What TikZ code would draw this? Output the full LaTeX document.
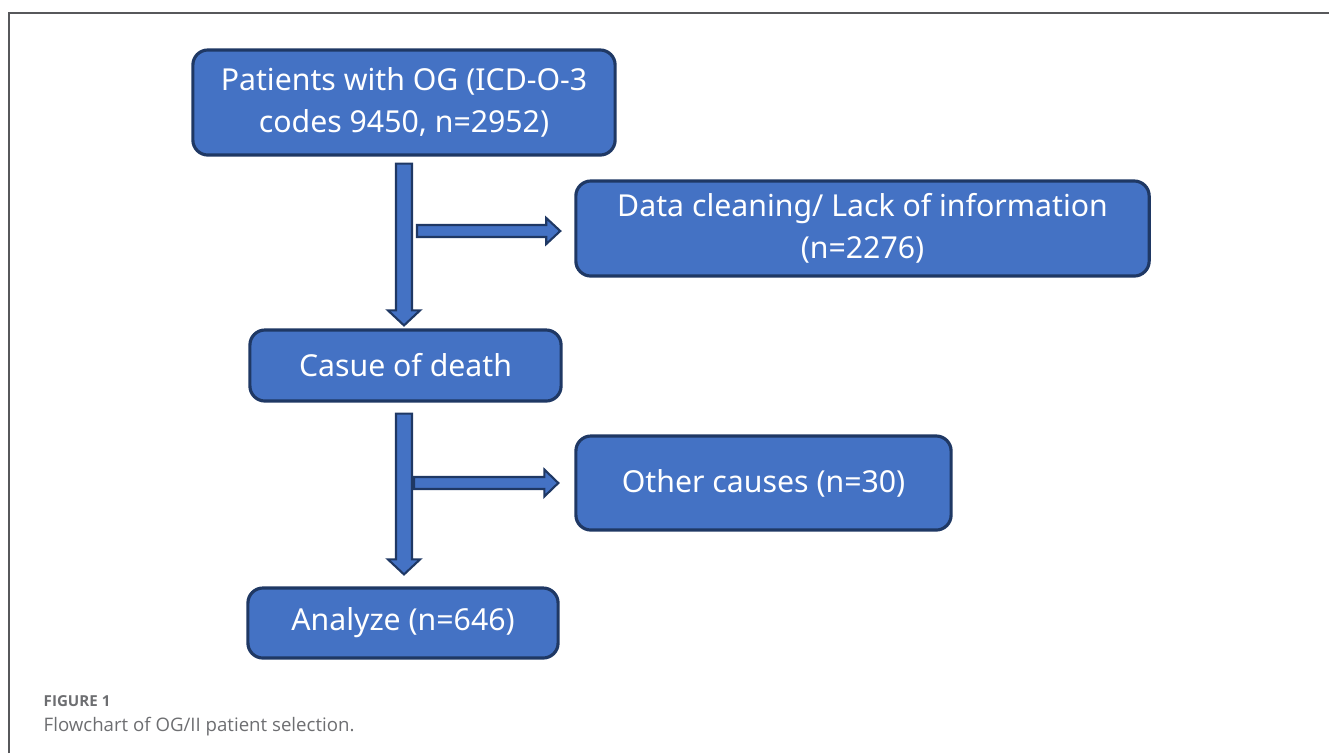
\documentclass[tikz,border=0pt]{standalone}
\usepackage{fontspec}
\setmainfont{Noto Sans}
\newfontfamily\capfont{Open Sans}
\usetikzlibrary{calc}
\definecolor{boxblue}{HTML}{4472C4}
\definecolor{boxline}{HTML}{1F3864}
\definecolor{capgrey}{HTML}{6D6E71}
\tikzset{
  flowbox/.style = {draw = boxline, line width = 0.9pt, fill = boxblue, rounded corners = 0.15cm,
    text = white, align = center, font = \fontsize{8.6}{12}\selectfont, inner sep = 0pt},
  fatarrow/.style = {draw = boxline, line width = 0.6pt, fill = boxblue, line join = miter}
}
% block arrow from #1 to tip #2, half shaft #3, half head #4, head length #5
\newcommand{\fatarrow}[5]{%
  \coordinate (hb) at ($(#2)!#5!(#1)$);
  \draw[fatarrow] ($(#1)!#3!90:(#2)$) -- ($(hb)!#3!-90:(#1)$) -- ($(hb)!#4!-90:(#1)$) -- (#2)
    -- ($(hb)!#4!90:(#1)$) -- ($(hb)!#3!90:(#1)$) -- ($(#1)!#3!-90:(#2)$) -- cycle;
}
\begin{document}
\begin{tikzpicture}[x = 0.01cm, y = -0.01cm]
				\useasboundingbox (0,0) rectangle (1331,753);
				\draw [capgrey!80!black, line width = 0.5pt] (9,753) -- (9,13) -- (1329,13);
				%
				\node [flowbox, minimum width = 4.22cm, minimum height = 1.05cm] (pat) at (404,102.5)
				  {Patients with OG (ICD-O-3\\codes 9450, n=2952)};
				\node [flowbox, minimum width = 5.73cm, minimum height = 0.95cm] (clean) at (862.5,228.5)
				  {Data cleaning/ Lack of information\\(n=2276)};
				\node [flowbox, minimum width = 3.11cm, minimum height = 0.71cm] (cause) at (405.5,365.5)
				  {Casue of death};
				\node [flowbox, minimum width = 3.75cm, minimum height = 0.94cm] (other) at (763.5,483)
				  {Other causes (n=30)};
				\node [flowbox, minimum width = 3.10cm, minimum height = 0.70cm] (analyze) at (403,623)
				  {Analyze (n=646)};
				%
				\coordinate (a1s) at ($(pat.south)+(0,7)$);
				\coordinate (a1e) at (pat.south |- {$(cause.north)+(0,-3)$});
				\fatarrow{a1s}{a1e}{0.08cm}{0.16cm}{0.15cm}
				\coordinate (a2s) at ($(pat.south |- clean.west)+(13,2.5)$);
				\coordinate (a2e) at ($(clean.west)+(-14,2.5)$);
				\fatarrow{a2s}{a2e}{0.06cm}{0.13cm}{0.14cm}
				\coordinate (a3s) at ($(pat.south |- cause.south)+(0,11)$);
				\coordinate (a3e) at (pat.south |- {$(analyze.north)+(0,-12)$});
				\fatarrow{a3s}{a3e}{0.08cm}{0.16cm}{0.15cm}
				\coordinate (a4s) at ($(pat.south |- other.west)+(10,0)$);
				\coordinate (a4e) at ($(other.west)+(-16,0)$);
				\fatarrow{a4s}{a4e}{0.06cm}{0.135cm}{0.14cm}
				%
				\node [anchor = base west, inner sep = 0pt, text = capgrey, font = \capfont\bfseries\fontsize{4.3}{5}\selectfont] (fig) at (43,706) {FIGURE 1};
				\node [anchor = base west, inner sep = 0pt, text = capgrey, font = \capfont\fontsize{5.3}{6}\selectfont] (cap) at (43,731) {Flowchart of OG/II patient selection.};
			\end{tikzpicture}
\end{document}
